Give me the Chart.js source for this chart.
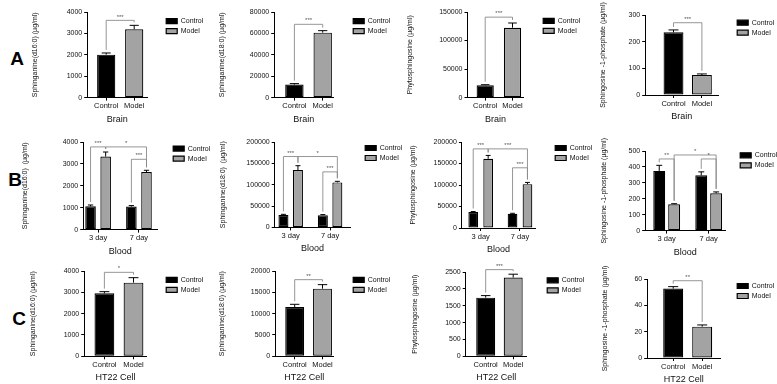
<!DOCTYPE html>
<html><head><meta charset="utf-8">
<script src="https://cdn.jsdelivr.net/npm/chart.js@4.4.1/dist/chart.umd.min.js"></script>
<style>
html,body{margin:0;padding:0;background:#fff;width:777px;height:384px;overflow:hidden;}
body{position:relative;font-family:"Liberation Sans",Arial,sans-serif;}
canvas{position:absolute;}
.row{position:absolute;font-weight:bold;font-size:19px;transform:translate(-50%,-50%);color:#000;}
</style></head><body>
<div class="row" style="left:17px;top:59px">A</div>
<div class="row" style="left:15px;top:180px">B</div>
<div class="row" style="left:19px;top:319px">C</div>
<script>
// ---------- data ----------
const seriesNames = ['Control', 'Model'];
const brainCategories = ['Control', 'Model'];
const bloodCategories = ['3 day', '7 day'];
const cellCategories = ['Control', 'Model'];

const titleD160 = 'Sphinganine(d16:0) (µg/ml)';
const titleD180 = 'Sphinganine(d18:0) (µg/ml)';
const titleD160b = 'Sphinganine(d16:0)  (µg/ml)';
const titleD180b = 'Sphinganine(d18:0)  (µg/ml)';
const titlePhyto = 'Phytosphingosine (µg/ml)';
const titleS1P = 'Sphingosine -1-phosphate (µg/ml)';

// Row A: Brain  (values = [Control, Model])
const brainD160Means = [2008, 3190];
const brainD160Errors = [77, 187];
const brainD160Ticks = [0, 1000, 2000, 3000, 4000];
const brainD160Sig = [[0, 1, 3610, '***']];

const brainD180Means = [12140, 60700];
const brainD180Errors = [930, 1870];
const brainD180Ticks = [0, 20000, 40000, 60000, 80000];
const brainD180Sig = [[0, 1, 68480, '***']];

const brainPhytoMeans = [21600, 122500];
const brainPhytoErrors = [1000, 8200];
const brainPhytoTicks = [0, 50000, 100000, 150000];
const brainPhytoSig = [[0, 1, 141000, '***']];

const brainS1PMeans = [235, 75];
const brainS1PErrors = [9, 4];
const brainS1PTicks = [0, 100, 200, 300];
const brainS1PSig = [[0, 1, 271, '***']];

// Row B: Blood  (per series, values = [3 day, 7 day])
const bloodD160Control = [1064, 1050];
const bloodD160ControlErr = [60, 46];
const bloodD160Model = [3333, 2630];
const bloodD160ModelErr = [210, 78];
const bloodD160Ticks = [0, 1000, 2000, 3000, 4000];
const bloodD160Sig = [[0, 1, 3776, '***'], [1, 3, 3776, '*'], [2, 3, 3210, '***']];

const bloodD180Control = [29000, 28500];
const bloodD180ControlErr = [1600, 1500];
const bloodD180Model = [134400, 105400];
const bloodD180ModelErr = [10100, 2500];
const bloodD180Ticks = [0, 50000, 100000, 150000, 200000];
const bloodD180Sig = [[0, 1, 166000, '***'], [1, 3, 166000, '*'], [2, 3, 130000, '***']];

const bloodPhytoControl = [37200, 33300];
const bloodPhytoControlErr = [1000, 900];
const bloodPhytoModel = [161000, 102000];
const bloodPhytoModelErr = [7800, 4000];
const bloodPhytoTicks = [0, 50000, 100000, 150000, 200000];
const bloodPhytoSig = [[0, 1, 184000, '***'], [1, 3, 184000, '***'], [2, 3, 140000, '***']];

const bloodS1PControl = [375, 347];
const bloodS1PControlErr = [35, 22];
const bloodS1PModel = [165, 235];
const bloodS1PModelErr = [4, 8];
const bloodS1PTicks = [0, 100, 200, 300, 400, 500];
const bloodS1PSig = [[0, 1, 450, '**'], [1, 3, 475, '*'], [2, 3, 450, '*']];

// Row C: HT22 Cell  (values = [Control, Model])
const cellD160Means = [2953, 3453];
const cellD160Errors = [78, 234];
const cellD160Ticks = [0, 1000, 2000, 3000, 4000];
const cellD160Sig = [[0, 1, 3937, '*']];

const cellD180Means = [11560, 15860];
const cellD180Errors = [630, 940];
const cellD180Ticks = [0, 5000, 10000, 15000, 20000];
const cellD180Sig = [[0, 1, 17970, '**']];

const cellPhytoMeans = [1740, 2335];
const cellPhytoErrors = [60, 100];
const cellPhytoTicks = [0, 500, 1000, 1500, 2000, 2500];
const cellPhytoSig = [[0, 1, 2570, '***']];

const cellS1PMeans = [52.7, 23.8];
const cellS1PErrors = [1.5, 1.3];
const cellS1PTicks = [0, 20, 40, 60];
const cellS1PSig = [[0, 1, 58.7, '**']];

// ---------- panel list (references to the arrays above) ----------
const panels = [
  {id:'a1', kind:'pair', cats:brainCategories, a:brainD160Means, ae:brainD160Errors, ticks:brainD160Ticks, sig:brainD160Sig, yTitle:titleD160, xTitle:'Brain'},
  {id:'a2', kind:'pair', cats:brainCategories, a:brainD180Means, ae:brainD180Errors, ticks:brainD180Ticks, sig:brainD180Sig, yTitle:titleD180, xTitle:'Brain'},
  {id:'a3', kind:'pair', cats:brainCategories, a:brainPhytoMeans, ae:brainPhytoErrors, ticks:brainPhytoTicks, sig:brainPhytoSig, yTitle:titlePhyto, xTitle:'Brain'},
  {id:'a4', kind:'pair', cats:brainCategories, a:brainS1PMeans, ae:brainS1PErrors, ticks:brainS1PTicks, sig:brainS1PSig, yTitle:titleS1P, xTitle:'Brain'},
  {id:'b1', kind:'group', cats:bloodCategories, a:bloodD160Control, ae:bloodD160ControlErr, b:bloodD160Model, be:bloodD160ModelErr, ticks:bloodD160Ticks, sig:bloodD160Sig, yTitle:titleD160b, xTitle:'Blood'},
  {id:'b2', kind:'group', cats:bloodCategories, a:bloodD180Control, ae:bloodD180ControlErr, b:bloodD180Model, be:bloodD180ModelErr, ticks:bloodD180Ticks, sig:bloodD180Sig, yTitle:titleD180b, xTitle:'Blood'},
  {id:'b3', kind:'group', cats:bloodCategories, a:bloodPhytoControl, ae:bloodPhytoControlErr, b:bloodPhytoModel, be:bloodPhytoModelErr, ticks:bloodPhytoTicks, sig:bloodPhytoSig, yTitle:titlePhyto, xTitle:'Blood'},
  {id:'b4', kind:'group', cats:bloodCategories, a:bloodS1PControl, ae:bloodS1PControlErr, b:bloodS1PModel, be:bloodS1PModelErr, ticks:bloodS1PTicks, sig:bloodS1PSig, yTitle:titleS1P, xTitle:'Blood'},
  {id:'c1', kind:'pair', cats:cellCategories, a:cellD160Means, ae:cellD160Errors, ticks:cellD160Ticks, sig:cellD160Sig, yTitle:titleD160, xTitle:'HT22 Cell'},
  {id:'c2', kind:'pair', cats:cellCategories, a:cellD180Means, ae:cellD180Errors, ticks:cellD180Ticks, sig:cellD180Sig, yTitle:titleD180, xTitle:'HT22 Cell'},
  {id:'c3', kind:'pair', cats:cellCategories, a:cellPhytoMeans, ae:cellPhytoErrors, ticks:cellPhytoTicks, sig:cellPhytoSig, yTitle:titlePhyto, xTitle:'HT22 Cell'},
  {id:'c4', kind:'pair', cats:cellCategories, a:cellS1PMeans, ae:cellS1PErrors, ticks:cellS1PTicks, sig:cellS1PSig, yTitle:titleS1P, xTitle:'HT22 Cell'}
];

// ---------- layout (page pixel positions, not data) ----------
const layouts = {
  a1:{axisL:87, axisR:147, c1:106, c2:134, top:11.7, bottom:97.3, titleX:35, legX:166, legY:20.8, bp:0.65, cp:1},
  a2:{axisL:274, axisR:333.3, c1:294.2, c2:322.5, top:11.7, bottom:97.3, titleX:222, legX:353, legY:20.8, bp:0.65, cp:1},
  a3:{axisL:467.3, axisR:523.3, c1:485, c2:512.3, top:11.7, bottom:97.3, titleX:410, legX:543, legY:20.5, bp:0.63, cp:1},
  a4:{axisL:645, axisR:718.3, c1:673.3, c2:701.7, top:15, bottom:95, titleX:603, legX:737, legY:22.7, bp:0.7, cp:1},
  b1:{axisL:83, axisR:157, c1:97.9, c2:138.75, top:141.7, bottom:229.3, titleX:25, legX:173, legY:148.3, bp:0.7, cp:0.74},
  b2:{axisL:274.5, axisR:350, c1:290.5, c2:329.9, top:142.3, bottom:227.7, titleX:223, legX:365, legY:148.3, bp:0.69, cp:0.736},
  b3:{axisL:461.7, axisR:535, c1:480.5, c2:519.8, top:142.3, bottom:228.3, titleX:413, legX:555, legY:148.3, bp:0.65, cp:0.76},
  b4:{axisL:645, axisR:725, c1:666.5, c2:708.5, top:150.7, bottom:230.3, titleX:604, legX:740, legY:155, bp:0.8, cp:0.71},
  c1:{axisL:84, axisR:146.7, c1:104.2, c2:133.3, top:270.7, bottom:356, titleX:33, legX:166, legY:279.5, bp:0.68, cp:1},
  c2:{axisL:275, axisR:333, c1:294.5, c2:322.3, top:270.7, bottom:356, titleX:222, legX:353, legY:279.5, bp:0.68, cp:1},
  c3:{axisL:465.5, axisR:526.7, c1:485.5, c2:513, top:271.7, bottom:356, titleX:415, legX:547, legY:280, bp:0.69, cp:1},
  c4:{axisL:647, axisR:720, c1:673, c2:702, top:279, bottom:358, titleX:605, legX:737, legY:286, bp:0.69, cp:1}
};

const FONT = '"Liberation Sans", Arial, sans-serif';
Chart.defaults.font.family = FONT;
Chart.defaults.color = '#111';
Chart.defaults.animation = false;

const Y_TITLE_SIZE = 7, X_TITLE_SIZE = 9, LEG_SIZE = 7, LEG_PAD = 3;
const PAD_TOP = 14, X_H = 27;
const MODEL_GRAY = '#a3a3a3';

// places the built-in legend at a fixed spot (legend position 'chartArea' takes no layout space)
const legendPlace = {
  id: 'legendPlace',
  afterLayout(chart, args, o) {
    const lg = chart.legend;
    if (!lg) return;
    lg.left = o.x - LEG_PAD; lg.top = o.y - LEG_SIZE / 2 - LEG_PAD;
    lg.width = 70; lg.height = 40;
    lg.right = lg.left + 70; lg.bottom = lg.top + 40;
  }
};

// error bars (upper SEM) and significance brackets, all through the chart scales
const annotate = {
  id: 'annotate',
  afterDatasetsDraw(chart, args, o) {
    const ctx = chart.ctx, ys = chart.scales.y;
    const bars = [];
    chart.data.datasets.forEach((ds, di) => {
      const meta = chart.getDatasetMeta(di);
      meta.data.forEach((el, i) => {
        const v = ds.data[i].y;
        if (v === null || v === undefined) return;
        const e = ds.errors[i] || 0;
        const yTop = ys.getPixelForValue(v + e);
        const cap = el.width * 0.5;
        ctx.save();
        ctx.strokeStyle = '#000'; ctx.lineWidth = 1;
        ctx.beginPath();
        ctx.moveTo(el.x, el.y); ctx.lineTo(el.x, yTop);
        ctx.moveTo(el.x - cap / 2, yTop); ctx.lineTo(el.x + cap / 2, yTop);
        ctx.stroke();
        ctx.restore();
        bars.push({x: el.x, top: yTop});
      });
    });
    bars.sort((p, q) => p.x - q.x);
    (o.sig || []).forEach(s => {
      const A = bars[s[0]], B = bars[s[1]];
      const yl = ys.getPixelForValue(s[2]);
      ctx.save();
      ctx.strokeStyle = '#8a8a8a'; ctx.lineWidth = 0.9;
      ctx.beginPath();
      ctx.moveTo(A.x, Math.max(A.top - 3, yl)); ctx.lineTo(A.x, yl);
      ctx.lineTo(B.x, yl); ctx.lineTo(B.x, Math.max(B.top - 3, yl));
      ctx.stroke();
      ctx.fillStyle = '#555';
      ctx.font = '6px ' + FONT;
      ctx.textAlign = 'center'; ctx.textBaseline = 'bottom';
      ctx.fillText(s[3], (A.x + B.x) / 2, yl - 0.5);
      ctx.restore();
    });
  }
};

function buildDatasets(p) {
  if (p.kind === 'pair') {
    return [
      {label: seriesNames[0], data: [{x:1, y:p.a[0]}, {x:2, y:null}], errors: [p.ae[0], 0],
       backgroundColor: '#000', borderColor: '#000'},
      {label: seriesNames[1], data: [{x:1, y:null}, {x:2, y:p.a[1]}], errors: [0, p.ae[1]],
       backgroundColor: MODEL_GRAY, borderColor: '#000'}
    ];
  }
  return [
    {label: seriesNames[0], data: [{x:1, y:p.a[0]}, {x:2, y:p.a[1]}], errors: p.ae,
     backgroundColor: '#000', borderColor: '#000'},
    {label: seriesNames[1], data: [{x:1, y:p.b[0]}, {x:2, y:p.b[1]}], errors: p.be,
     backgroundColor: MODEL_GRAY, borderColor: '#000'}
  ];
}

panels.forEach(p => {
  const L = layouts[p.id];
  const lh = Y_TITLE_SIZE * 1.2;
  const cl = L.titleX - lh / 2;
  const ct = L.top - PAD_TOP;
  const cw = Math.round(L.legX + 75 - cl);
  const ch = Math.round(L.bottom - ct + X_H);
  const padR = cw - (L.axisR - cl);
  const yW = L.axisL - cl;
  const unit = L.c2 - L.c1;
  const xMin = 1 - (L.c1 - L.axisL) / unit;
  const xMax = 2 + (L.axisR - L.c2) / unit;
  const xH = ch - (L.bottom - ct); // keep chart bottom on L.bottom after rounding
  const cv = document.createElement('canvas');
  cv.width = cw; cv.height = ch;
  cv.style.left = cl + 'px'; cv.style.top = ct + 'px';
  cv.style.width = cw + 'px'; cv.style.height = ch + 'px';
  document.body.appendChild(cv);
  const yMax = p.ticks[p.ticks.length - 1];
  new Chart(cv, {
    type: 'bar',
    data: { datasets: buildDatasets(p) },
    options: {
      responsive: false,
      devicePixelRatio: 1,
      animation: false,
      layout: { autoPadding: false, padding: { left: 0, top: PAD_TOP, right: padR, bottom: 0 } },
      datasets: { bar: { skipNull: true, borderWidth: 1.2, borderSkipped: false,
                         barPercentage: L.bp, categoryPercentage: L.cp } },
      plugins: {
        legend: {
          display: true, position: 'chartArea', align: 'start',
          labels: { boxWidth: 11, boxHeight: 5, padding: LEG_PAD, color: '#111',
                    font: { size: LEG_SIZE, family: FONT } }
        },
        tooltip: { enabled: false },
        legendPlace: { x: L.legX - cl, y: L.legY - ct },
        annotate: { sig: p.sig }
      },
      scales: {
        x: {
          type: 'linear', min: xMin, max: xMax, offset: false,
          afterBuildTicks: s => { s.ticks = p.cats.map((c, i) => ({ value: i + 1 })); },
          afterFit: s => { s.height = xH; },
          grid: { display: true, drawOnChartArea: false, drawTicks: true, tickLength: 3, color: '#000', offset: false },
          border: { display: true, color: '#000', width: 1 },
          ticks: { autoSkip: false, maxRotation: 0, padding: 1, color: '#111',
                   font: { size: 7.5, family: FONT },
                   callback: (v, i) => p.cats[i] },
          title: { display: true, text: p.xTitle, color: '#111', padding: { top: 0, bottom: 0 },
                   font: { size: X_TITLE_SIZE, family: FONT } }
        },
        y: {
          type: 'linear', min: 0, max: yMax,
          afterBuildTicks: s => { s.ticks = p.ticks.map(v => ({ value: v })); },
          afterFit: s => { s.width = yW; },
          grid: { display: true, drawOnChartArea: false, drawTicks: true, tickLength: 3, color: '#000' },
          border: { display: true, color: '#000', width: 1 },
          ticks: { padding: 2, color: '#111', font: { size: 7, family: FONT },
                   callback: v => String(v) },
          title: { display: true, text: p.yTitle, color: '#111', padding: { top: 0, bottom: 0 },
                   font: { size: Y_TITLE_SIZE, family: FONT } }
        }
      }
    },
    plugins: [legendPlace, annotate]
  });
});
</script>
</body></html>
